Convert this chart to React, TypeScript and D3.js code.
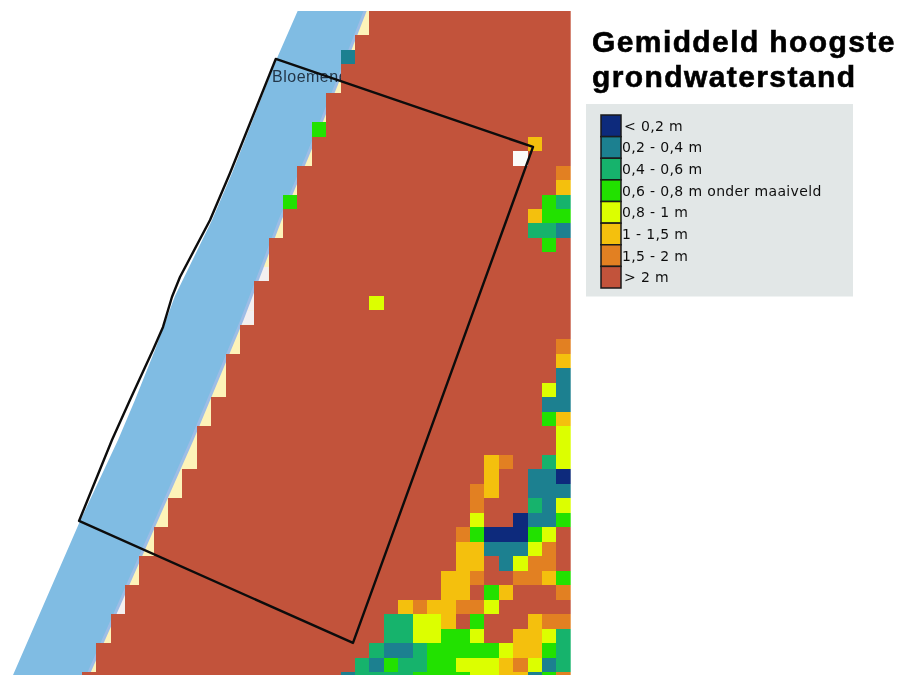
import * as d3 from 'd3'

const LEGEND_LABELS = ['< 0,2 m', '0,2 - 0,4 m', '0,4 - 0,6 m', '0,6 - 0,8 m onder maaiveld', '0,8 - 1 m', '1 - 1,5 m', '1,5 - 2 m', '> 2 m']
const CLASS_COLORS = ['#0b2a7c', '#1b8090', '#16b36c', '#22e100', '#dcff00', '#f4c00a', '#e28020', '#c2533a']

// first land column on every raster row (row 0 is the top one)
const LAND_START = [25, 25, 24, 24, 23, 23, 22, 22, 22, 21, 21, 20, 20, 20, 19, 19, 18, 18, 18, 17, 17, 17, 16, 16, 15, 15, 15, 14, 14, 13, 13, 13, 12, 12, 11, 11, 10, 10, 9, 9, 8, 8, 7, 7, 6, 6, 5]

// rows that differ from plain "> 2 m", columns 23..38, "." means > 2 m, "w" no data
const PATCH_COL = 23
const PATCHES: Record<number, string> = {
  3: '1...............',
  9: '.............5..',
  10: '............w...',
  11: '...............6',
  12: '...............5',
  13: '..............32',
  14: '.............533',
  15: '.............221',
  16: '..............3.',
  20: '..4.............',
  23: '...............6',
  24: '...............5',
  25: '...............1',
  26: '..............41',
  27: '..............11',
  28: '..............35',
  29: '...............4',
  30: '...............4',
  31: '..........56..24',
  32: '..........5..110',
  33: '.........65..111',
  34: '.........6...214',
  35: '.........4..0113',
  36: '........6300034.',
  37: '........5511146.',
  38: '........55.1466.',
  39: '.......556..6653',
  40: '.......55.35...6',
  41: '....5655664.....',
  42: '...22445.3...566',
  43: '...2244334..5542',
  44: '..21123333345532',
  45: '.213223344456412',
  46: '1222233334455136',
}
// single cells outside the land start: [row, col, class]
const EDGE_CELLS = [[8, 21, 3], [13, 19, 3]]
// gaps on the dune edge, no data: [row, col]
const GAP_CELLS = [[18, 17], [19, 16], [20, 16], [21, 16], [40, 7], [41, 7]]

// coast and study area, in raster column / row units
const SEA_WEST = [[20.15, 0], [18.58, 3.56], [15.45, 11.51], [14.06, 14.76], [11.48, 20.01], [10.09, 23.74], [8.7, 27.2], [7.52, 29.96], [4.88, 35.56], [0.22, 46.2], [-0.1, 47]]
const SEA_EAST = [[24.83, 0], [24.7, 0.32], [22.75, 5.29], [20.66, 10.41], [18.79, 14.76], [16.14, 21.67], [12.66, 29.96], [5.43, 46.2], [5.2, 47]]
const STUDY_AREA = [[18.49, 3.63], [36.38, 9.71], [23.86, 43.99], [4.81, 35.56], [7.1, 29.96], [8.35, 27.2], [9.95, 23.74], [10.65, 22.15], [11.27, 20.08], [11.83, 18.7], [13.92, 14.76], [15.31, 11.51]]

const N_COLS = 39
const N_ROWS = 47

export default function App() {
  const x = d3.scaleLinear().domain([0, N_COLS]).range([9.88, 570.7])
  const y = d3.scaleLinear().domain([0, N_ROWS]).range([6.43, 686.5])
  const cw = x(1) - x(0)
  const ch = y(1) - y(0)
  const line = d3.line<number[]>().x((d) => x(d[0])).y((d) => y(d[1]))
  const seaPoly = [...SEA_WEST, ...[...SEA_EAST].reverse()]
  const beachPoly = [...SEA_EAST, [N_COLS, N_ROWS], [N_COLS, 0]]

  const legendY = d3.scaleBand<number>().domain(d3.range(LEGEND_LABELS.length)).range([115, 288])

  const cells: { r: number; c: number; k: string }[] = []
  LAND_START.forEach((start, r) => {
    const patch = PATCHES[r]
    for (let c = start; c < N_COLS; c++) {
      const code = patch && c >= PATCH_COL ? patch[c - PATCH_COL] : '.'
      cells.push({ r, c, k: code === '.' ? '7' : code })
    }
    if (patch) {
      for (let c = PATCH_COL; c < start; c++) {
        const code = patch[c - PATCH_COL]
        if (code !== '.') cells.push({ r, c, k: code })
      }
    }
  })
  EDGE_CELLS.forEach(([r, c, k]) => cells.push({ r, c, k: String(k) }))

  return (
    <svg width={898} height={675} style={{ position: 'absolute', left: 0, top: 0 }}>
      <defs>
        <clipPath id="map">
          <rect x={0} y={11} width={x(N_COLS)} height={664} />
        </clipPath>
        <filter id="soft">
          <feGaussianBlur stdDeviation="0.35" />
        </filter>
      </defs>
      <rect width={898} height={675} fill="#fff" />
      <g clipPath="url(#map)">
        <g filter="url(#soft)">
          <path d={line(beachPoly) + 'Z'} fill="#fdf3b9" />
          {GAP_CELLS.map(([r, c]) => (
            <rect key={`${r}-${c}`} x={x(c)} y={y(r)} width={cw} height={ch} fill="#f3eff0" />
          ))}
          <path d={line(seaPoly) + 'Z'} fill="#80bce3" />
          <path d={line(SEA_EAST) ?? ''} fill="none" stroke="#9dbde6" strokeWidth={3} />
          <text x={272} y={82} fontFamily="Liberation Sans, sans-serif" fontSize={16} letterSpacing={0.5} fill="#233648">Bloemendaal</text>
          <g shapeRendering="crispEdges">
            {cells.map((d) => (
              <rect
                key={`${d.r}-${d.c}`}
                x={x(d.c)}
                y={y(d.r)}
                width={d.k === '7' ? cw + 1 : cw}
                height={d.k === '7' ? ch + 1 : ch}
                fill={d.k === 'w' ? '#fbfbf8' : CLASS_COLORS[+d.k]}
              />
            ))}
          </g>
        </g>
      </g>
      <path d={line(STUDY_AREA) + 'Z'} fill="none" stroke="#0c0c0c" strokeWidth={2.4} strokeLinejoin="round" />

      <g fontFamily="Liberation Sans, sans-serif" fontWeight="bold" fontSize={30} letterSpacing={1.4} fill="#000" stroke="#000" strokeWidth={0.6} filter="url(#soft)">
        <text x={592} y={52}>Gemiddeld hoogste</text>
        <text x={592} y={87}>grondwaterstand</text>
      </g>

      <rect x={586} y={104} width={267} height={192.5} fill="#e2e7e7" />
      <g filter="url(#soft)">
        {LEGEND_LABELS.map((label, i) => (
          <g key={label}>
            <rect
              x={601}
              y={legendY(i)}
              width={20}
              height={legendY.bandwidth()}
              fill={CLASS_COLORS[i]}
              stroke="#1a1a1a"
              strokeWidth={1.5}
            />
            <text
              x={label.startsWith('<') || label.startsWith('>') ? 624 : 622}
              y={(legendY(i) ?? 0) + legendY.bandwidth() / 2 + 5}
              fontFamily="DejaVu Sans, sans-serif"
              fontSize={14}
              letterSpacing={0.35}
              fill="#111"
            >
              {label}
            </text>
          </g>
        ))}
      </g>
    </svg>
  )
}
